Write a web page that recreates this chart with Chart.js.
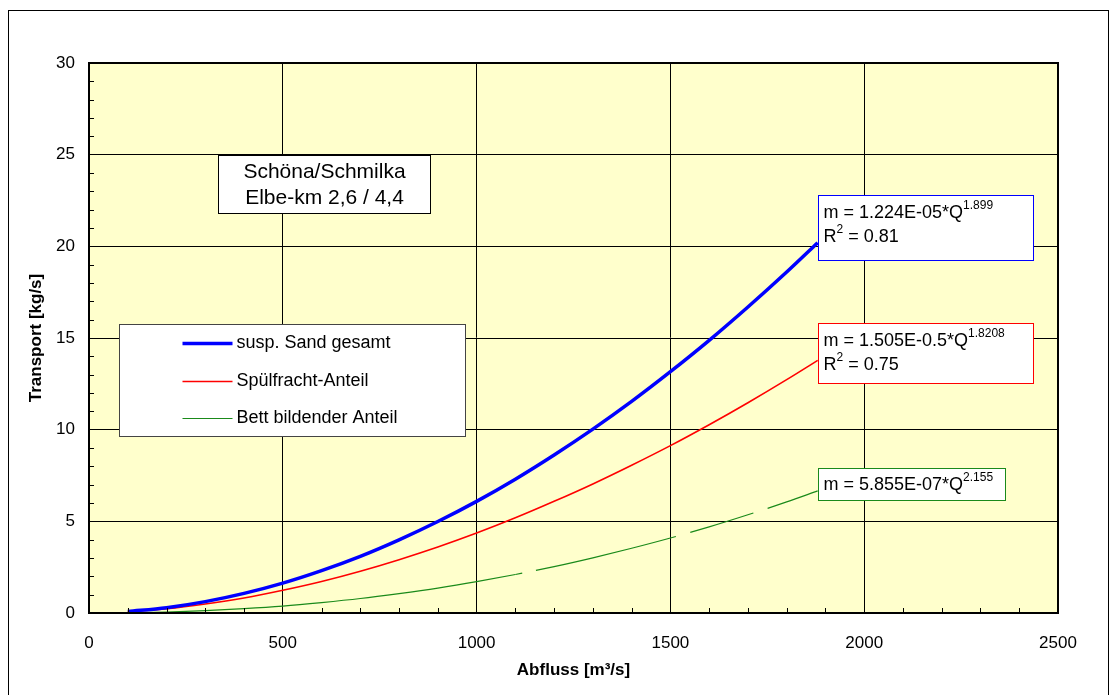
<!DOCTYPE html>
<html>
<head>
<meta charset="utf-8">
<script src="https://cdn.jsdelivr.net/npm/chart.js@4.4.1/dist/chart.umd.min.js"></script>
<style>
  html, body { margin: 0; padding: 0; background: #fff; }
  #container { width: 1116px; height: 695px; }
</style>
</head>
<body>
<div id="container"><canvas id="myChart" width="1116" height="695"></canvas></div>
<script>
// values (Q in m³/s, transport in kg/s)
const abfluss     = [100, 200, 300, 400, 500, 600, 700, 800, 900, 1000, 1100, 1200, 1300, 1400, 1500, 1600, 1700, 1800, 1880];
const suspSand    = [0.08, 0.29, 0.62, 1.07, 1.63, 2.31, 3.09, 3.99, 4.99, 6.09, 7.30, 8.62, 10.03, 11.54, 13.16, 14.87, 16.69, 18.60, 20.20];
const spuelfracht = [0.07, 0.23, 0.49, 0.82, 1.24, 1.72, 2.28, 2.91, 3.60, 4.36, 5.19, 6.09, 7.04, 8.06, 9.13, 10.27, 11.47, 12.73, 13.78];
const bettAnteil  = [0.01, 0.05, 0.13, 0.24, 0.38, 0.57, 0.79, 1.06, 1.36, 1.71, 2.10, 2.53, 3.01, 3.53, 4.09, 4.70, 5.36, 6.06, 6.66];

const seriesNames = ['susp. Sand gesamt', 'Spülfracht-Anteil', 'Bett bildender Anteil'];
const xTicks = [0, 500, 1000, 1500, 2000, 2500];
const yTicks = [0, 5, 10, 15, 20, 25, 30];

const fontFamily = "'Liberation Sans', Arial, sans-serif";
Chart.defaults.font.family = fontFamily;
Chart.defaults.color = '#000';

function toPoints(ys) {
  return abfluss.map((x, i) => ({ x: x, y: ys[i] }));
}

// boxes placed in data units, text offsets in px
const titleBox  = { x0: 333, x1: 880, y0: 25.0, y1: 21.8 };
const legendBox = { x0: 77, x1: 970, y0: 15.76, y1: 9.65 };
const fitBoxes = [
  { x0: 1881, x1: 2435, y0: 22.8, y1: 19.25, color: '#0000ff',
    lines: [[['m = 1.224E-05*Q', false], ['1.899', true]], [['R', false], ['2', true], [' = 0.81', false]]] },
  { x0: 1881, x1: 2435, y0: 15.82, y1: 12.55, color: '#ff0000',
    lines: [[['m = 1.505E-0.5*Q', false], ['1.8208', true]], [['R', false], ['2', true], [' = 0.75', false]]] },
  { x0: 1881, x1: 2363, y0: 7.91, y1: 6.16, color: '#1a8a1a',
    lines: [[['m = 5.855E-07*Q', false], ['2.155', true]]] }
];

function boxRect(chart, b) {
  const xs = chart.scales.x, ys = chart.scales.y;
  const l = Math.round(xs.getPixelForValue(b.x0)) + 0.5;
  const r = Math.round(xs.getPixelForValue(b.x1)) + 0.5;
  const t = Math.round(ys.getPixelForValue(b.y0)) + 0.5;
  const bt = Math.round(ys.getPixelForValue(b.y1)) + 0.5;
  return { l, r, t, b: bt };
}

function drawParts(ctx, parts, x, y) {
  for (const [txt, sup] of parts) {
    ctx.font = sup ? '12px ' + fontFamily : '18px ' + fontFamily;
    ctx.fillText(txt, x, sup ? y - 8 : y);
    x += ctx.measureText(txt).width;
  }
}

const decorations = {
  id: 'decorations',
  beforeDraw(chart) {
    const { ctx, chartArea: a } = chart;
    ctx.save();
    ctx.fillStyle = '#fff';
    ctx.fillRect(0, 0, chart.width, chart.height);
    ctx.fillStyle = '#ffffcc';
    ctx.fillRect(a.left, a.top, a.right - a.left, a.bottom - a.top);
    ctx.strokeStyle = '#000';
    ctx.lineWidth = 1;
    ctx.strokeRect(8.5, 10.5, 1100, 700);
    ctx.restore();
  },
  afterDatasetsDraw(chart) {
    const { ctx, chartArea: a } = chart;
    const xs = chart.scales.x, ys = chart.scales.y;
    ctx.save();

    // minor ticks pointing into the plot
    ctx.strokeStyle = '#000';
    ctx.lineWidth = 1;
    ctx.beginPath();
    for (let v = 100; v < 2500; v += 100) {
      if (v % 500 === 0) continue;
      const px = Math.round(xs.getPixelForValue(v)) + 0.5;
      ctx.moveTo(px, a.bottom);
      ctx.lineTo(px, a.bottom - 5);
    }
    for (let v = 1; v < 30; v++) {
      if (v % 5 === 0) continue;
      const py = Math.round(ys.getPixelForValue(v)) + 0.5;
      ctx.moveTo(a.left, py);
      ctx.lineTo(a.left + 5, py);
    }
    ctx.stroke();

    // frame of the plot area
    ctx.lineWidth = 2;
    ctx.strokeRect(a.left, a.top, a.right - a.left, a.bottom - a.top);

    // location box
    let r = boxRect(chart, titleBox);
    ctx.fillStyle = '#fff';
    ctx.fillRect(r.l, r.t, r.r - r.l, r.b - r.t);
    ctx.lineWidth = 1;
    ctx.strokeStyle = '#000';
    ctx.strokeRect(r.l, r.t, r.r - r.l, r.b - r.t);
    ctx.fillStyle = '#000';
    ctx.font = '21px ' + fontFamily;
    ctx.textAlign = 'center';
    ctx.textBaseline = 'middle';
    ctx.fillText('Schöna/Schmilka', (r.l + r.r) / 2, r.t + 17);
    ctx.fillText('Elbe-km 2,6 / 4,4', (r.l + r.r) / 2, r.t + 43);

    // legend
    r = boxRect(chart, legendBox);
    ctx.fillStyle = '#fff';
    ctx.fillRect(r.l, r.t, r.r - r.l, r.b - r.t);
    ctx.strokeStyle = '#444';
    ctx.strokeRect(r.l, r.t, r.r - r.l, r.b - r.t);
    ctx.textAlign = 'left';
    const rowY = [19, 57, 94];
    chart.data.datasets.forEach((ds, i) => {
      const y = r.t + rowY[i];
      ctx.strokeStyle = ds.borderColor;
      ctx.lineWidth = ds.borderWidth;
      ctx.beginPath();
      ctx.moveTo(r.l + 63, y);
      ctx.lineTo(r.l + 113, y);
      ctx.stroke();
      ctx.fillStyle = '#000';
      ctx.font = '18px ' + fontFamily;
      ctx.fillText(ds.label, r.l + 117, y);
    });

    // fit boxes
    for (const b of fitBoxes) {
      r = boxRect(chart, b);
      ctx.fillStyle = '#fff';
      ctx.fillRect(r.l, r.t, r.r - r.l, r.b - r.t);
      ctx.strokeStyle = b.color;
      ctx.lineWidth = 1;
      ctx.strokeRect(r.l, r.t, r.r - r.l, r.b - r.t);
      ctx.fillStyle = '#000';
      ctx.textAlign = 'left';
      ctx.textBaseline = 'middle';
      const h = r.b - r.t;
      const n = b.lines.length;
      b.lines.forEach((parts, i) => {
        const y = n === 1 ? r.t + h / 2 + 1 : r.t + 18 + i * 24;
        drawParts(ctx, parts, r.l + 5, y);
      });
    }
    ctx.restore();
  }
};

const ctx = document.getElementById('myChart').getContext('2d');
const myChart = new Chart(ctx, {
  type: 'line',
  data: {
    datasets: [{
      label: seriesNames[0],
      data: toPoints(suspSand),
      borderColor: '#0000ff',
      borderWidth: 3.5,
      pointRadius: 0,
      cubicInterpolationMode: 'monotone'
    }, {
      label: seriesNames[1],
      data: toPoints(spuelfracht),
      borderColor: '#ff0000',
      borderWidth: 1.6,
      pointRadius: 0,
      cubicInterpolationMode: 'monotone'
    }, {
      label: seriesNames[2],
      data: toPoints(bettAnteil),
      borderColor: '#1a8a1a',
      borderWidth: 1.2,
      pointRadius: 0,
      cubicInterpolationMode: 'monotone',
      segment: {
        borderDash: c => c.p0.parsed.x >= 1100 ? [7, 14, 144, 15, 66, 15, 200, 15] : undefined
      }
    }]
  },
  options: {
    responsive: false,
    animation: false,
    devicePixelRatio: 1,
    layout: { padding: { left: 0, top: 63, right: 58, bottom: 0 } },
    plugins: {
      legend: { display: false },
      tooltip: { enabled: false }
    },
    scales: {
      x: {
        type: 'linear',
        min: 0,
        max: 2500,
        afterBuildTicks: s => { s.ticks = xTicks.map(v => ({ value: v })); },
        afterFit: s => { s.height = 82; },
        grid: { color: '#000', lineWidth: 1, drawTicks: false },
        border: { color: '#000', width: 2 },
        ticks: { font: { size: 17 }, padding: 20, maxRotation: 0, autoSkip: false, callback: v => String(v) },
        title: {
          display: true,
          text: 'Abfluss [m³/s]',
          font: { size: 17, weight: 'bold' },
          padding: { top: 0, bottom: 14 }
        }
      },
      y: {
        type: 'linear',
        min: 0,
        max: 30,
        afterBuildTicks: s => { s.ticks = yTicks.map(v => ({ value: v })); },
        afterFit: s => { s.width = 89; },
        grid: { color: '#000', lineWidth: 1, drawTicks: false },
        border: { color: '#000', width: 2 },
        ticks: { font: { size: 17 }, padding: 14, autoSkip: false, callback: v => String(v) },
        title: {
          display: true,
          text: 'Transport [kg/s]',
          font: { size: 17, weight: 'bold' },
          padding: { top: 26, bottom: 0 }
        }
      }
    }
  },
  plugins: [decorations]
});
</script>
</body>
</html>
